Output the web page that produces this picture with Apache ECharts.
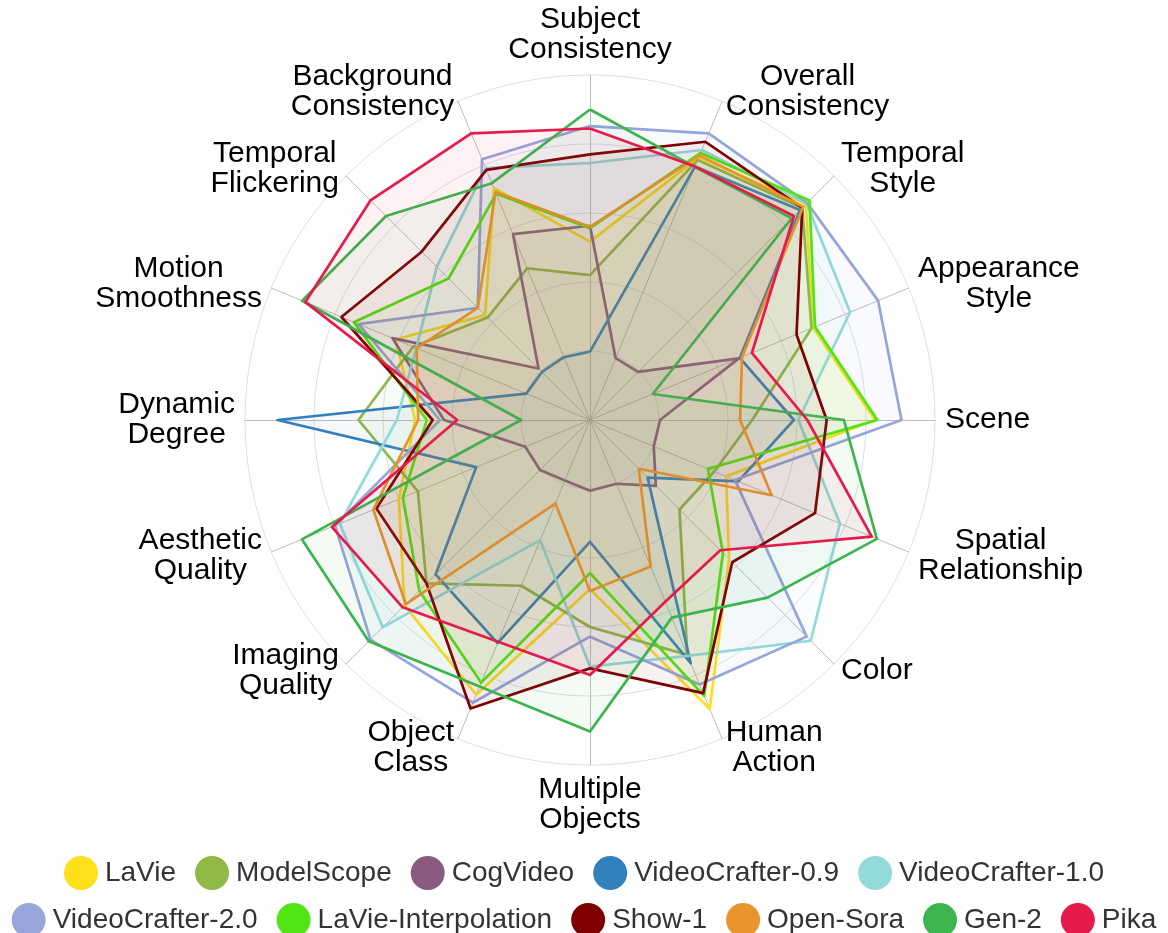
<!DOCTYPE html>
<html>
<head>
<meta charset="utf-8">
<script src="https://cdn.jsdelivr.net/npm/echarts@6/dist/echarts.min.js"></script>
<style>
html,body{margin:0;padding:0;background:#fff;}
#chart{width:1168px;height:933px;}
</style>
</head>
<body>
<div id="chart"></div>
<script>
// Dimensions in ECharts radar order (starting at top, going counter-clockwise)
const dimensions = [
  'Subject\nConsistency', 'Background\nConsistency', 'Temporal\nFlickering', 'Motion\nSmoothness',
  'Dynamic\nDegree', 'Aesthetic\nQuality', 'Imaging\nQuality', 'Object\nClass',
  'Multiple\nObjects', 'Human\nAction', 'Color', 'Spatial\nRelationship',
  'Scene', 'Appearance\nStyle', 'Temporal\nStyle', 'Overall\nConsistency'
];

const models = ['LaVie', 'ModelScope', 'CogVideo', 'VideoCrafter-0.9', 'VideoCrafter-1.0',
  'VideoCrafter-2.0', 'LaVie-Interpolation', 'Show-1', 'Open-Sora', 'Gen-2', 'Pika'];

const colors = ['#FFE01A', '#90B844', '#8A5A80', '#3381BC', '#93DBDA',
  '#97A5DB', '#52E516', '#7E0000', '#E7952C', '#3DB54E', '#E61B4C'];

// normalized scores (0..1), same order as dimensions
const lavie          = [0.517, 0.727, 0.430, 0.610, 0.507, 0.600, 0.760, 0.862, 0.490, 0.907, 0.570, 0.427, 0.826, 0.700, 0.885, 0.824];
const modelscope     = [0.420, 0.476, 0.420, 0.555, 0.671, 0.540, 0.670, 0.520, 0.600, 0.737, 0.367, 0.390, 0.470, 0.695, 0.870, 0.816];
const cogvideo       = [0.563, 0.583, 0.211, 0.620, 0.423, 0.203, 0.205, 0.190, 0.205, 0.200, 0.270, 0.200, 0.203, 0.467, 0.197, 0.194];
const videocrafter09 = [0.198, 0.197, 0.197, 0.200, 0.906, 0.357, 0.633, 0.700, 0.353, 0.763, 0.236, 0.465, 0.591, 0.470, 0.861, 0.795];
const videocrafter10 = [0.745, 0.790, 0.628, 0.545, 0.560, 0.785, 0.850, 0.377, 0.715, 0.740, 0.905, 0.784, 0.604, 0.816, 0.888, 0.847];
const videocrafter20 = [0.852, 0.818, 0.460, 0.726, 0.435, 0.800, 0.900, 0.887, 0.628, 0.830, 0.888, 0.455, 0.903, 0.904, 0.890, 0.899];
const lavieInterp    = [0.556, 0.710, 0.580, 0.741, 0.473, 0.587, 0.700, 0.824, 0.444, 0.866, 0.545, 0.370, 0.833, 0.706, 0.900, 0.838];
const show1          = [0.770, 0.785, 0.690, 0.780, 0.456, 0.670, 0.670, 0.905, 0.720, 0.857, 0.583, 0.706, 0.686, 0.648, 0.870, 0.873];
const opensora       = [0.560, 0.715, 0.460, 0.544, 0.498, 0.680, 0.755, 0.262, 0.496, 0.460, 0.200, 0.570, 0.435, 0.477, 0.874, 0.830];
const gen2           = [0.900, 0.743, 0.836, 0.903, 0.200, 0.904, 0.907, 0.836, 0.903, 0.620, 0.728, 0.900, 0.736, 0.197, 0.827, 0.794];
const pika           = [0.845, 0.899, 0.900, 0.893, 0.385, 0.810, 0.768, 0.696, 0.739, 0.570, 0.534, 0.884, 0.630, 0.508, 0.836, 0.795];

const values = [lavie, modelscope, cogvideo, videocrafter09, videocrafter10,
  videocrafter20, lavieInterp, show1, opensora, gen2, pika];

const FONT = '"Liberation Sans", Arial, Helvetica, sans-serif';

const chart = echarts.init(document.getElementById('chart'), null, {renderer: 'canvas'});

const legendBase = {
  left: 'center',
  orient: 'horizontal',
  icon: 'circle',
  itemWidth: 34,
  itemHeight: 34,
  itemGap: 19,
  textStyle: {fontSize: 28, color: '#333', fontFamily: FONT, padding: [0, 0, 0, 2]}
};

const option = {
  backgroundColor: '#fff',
  animation: false,
  color: colors,
  legend: [
    Object.assign({}, legendBase, {top: 851, data: models.slice(0, 5)}),
    Object.assign({}, legendBase, {top: 898, data: models.slice(5)})
  ],
  radar: {
    center: [590, 420],
    radius: 345,
    startAngle: 90,
    shape: 'circle',
    splitNumber: 5,
    nameGap: 10,
    indicator: dimensions.map(function (d) { return {name: d, min: 0, max: 1}; }),
    axisName: {
      color: '#000',
      fontSize: 30,
      fontFamily: FONT,
      lineHeight: 30,
      formatter: function (name) {
        return name.split('\n').map(function (l) { return '{c|' + l + '}'; }).join('\n');
      },
      rich: {
        c: {align: 'center', fontSize: 30, lineHeight: 30, color: '#000', fontFamily: FONT}
      }
    },
    splitLine: {lineStyle: {color: '#d9dfeb', width: 1}},
    splitArea: {show: false},
    axisLine: {lineStyle: {color: '#bdbdbd', width: 1}}
  },
  series: [{
    type: 'radar',
    symbol: 'none',
    data: models.map(function (m, i) {
      return {
        name: m,
        value: values[i],
        lineStyle: {color: colors[i], width: 2.7},
        itemStyle: {color: colors[i]},
        areaStyle: {color: colors[i], opacity: 0.055}
      };
    })
  }]
};

chart.setOption(option);
</script>
</body>
</html>
